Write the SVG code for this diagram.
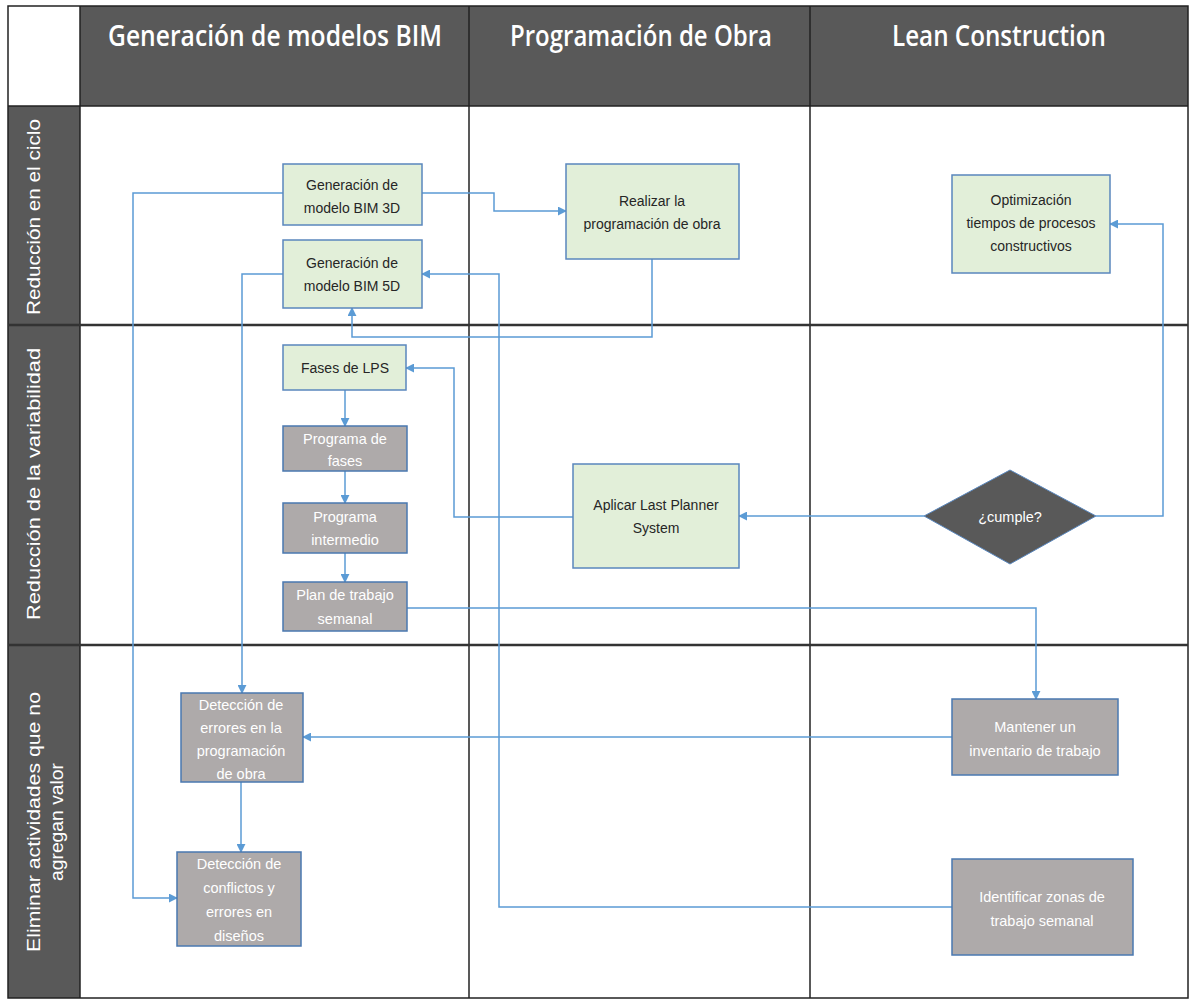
<svg xmlns="http://www.w3.org/2000/svg" width="1190" height="1000" viewBox="0 0 1190 1000">
<style>
.hdr{fill:#595959}
.htxt{font-family:"Open Sans","Liberation Sans",sans-serif;font-weight:600;font-size:29px;fill:#ffffff;text-anchor:middle}
.ltxt{font-family:"Liberation Sans",Arial,sans-serif;font-size:18px;fill:#ffffff;text-anchor:middle}
.grid{stroke:#222;stroke-width:1.5;fill:none}
.gridh{stroke:#333;stroke-width:2.5;fill:none}
.green{fill:#e2efd9;stroke:#5a87bd;stroke-width:1.5}
.gray{fill:#aeaaaa;stroke:#4a78b0;stroke-width:1.5}
.dia{fill:#595959;stroke:#5a87bd;stroke-width:1}
.t{font-family:"Liberation Sans",Arial,sans-serif;font-size:14px;text-anchor:middle;fill:#262626}
.tw{font-family:"Liberation Sans",Arial,sans-serif;font-size:14.5px;text-anchor:middle;fill:#ffffff}
.c{fill:none;stroke:#5b9bd5;stroke-width:1.5}
</style>
<defs>
<marker id="ah" viewBox="0 0 10 10" refX="9" refY="5" markerWidth="9" markerHeight="9" markerUnits="userSpaceOnUse" orient="auto">
<path d="M0,0 L10,5 L0,10 z" fill="#5b9bd5"/>
</marker>
</defs>
<rect x="0" y="0" width="1190" height="1000" fill="#ffffff"/>
<g id="grid">
<rect class="hdr" x="80" y="6" width="1108" height="100"/>
<rect class="hdr" x="8" y="106" width="72" height="892"/>
<rect x="8" y="6" width="72" height="100" fill="#ffffff"/>
<rect class="grid" x="8" y="6" width="1180" height="992"/>
<line class="grid" x1="80" y1="6" x2="80" y2="998"/>
<line class="grid" x1="469" y1="6" x2="469" y2="998"/>
<line class="grid" x1="810" y1="6" x2="810" y2="998"/>
<line class="grid" x1="8" y1="106" x2="1188" y2="106"/>
<line class="gridh" x1="8" y1="325" x2="1188" y2="325"/>
<line class="gridh" x1="8" y1="645" x2="1188" y2="645"/>
<text class="htxt" x="275" y="46" textLength="334" lengthAdjust="spacingAndGlyphs">Generación de modelos BIM</text>
<text class="htxt" x="641" y="46" textLength="262" lengthAdjust="spacingAndGlyphs">Programación de Obra</text>
<text class="htxt" x="999" y="46" textLength="214" lengthAdjust="spacingAndGlyphs">Lean Construction</text>
<text class="ltxt" transform="translate(40,217) rotate(-90)" textLength="196" lengthAdjust="spacingAndGlyphs">Reducción en el ciclo</text>
<text class="ltxt" transform="translate(40,484) rotate(-90)" textLength="272" lengthAdjust="spacingAndGlyphs">Reducción de la variabilidad</text>
<text class="ltxt" transform="translate(40,822) rotate(-90)" textLength="260" lengthAdjust="spacingAndGlyphs">Eliminar actividades que no</text>
<text class="ltxt" transform="translate(63,822) rotate(-90)" textLength="118" lengthAdjust="spacingAndGlyphs">agregan valor</text>
</g>
<g id="connectors">
<polyline class="c" points="283,193 133,193 133,898 177,898" marker-end="url(#ah)"/>
<polyline class="c" points="422,193 494,193 494,211 566,211" marker-end="url(#ah)"/>
<polyline class="c" points="283,274 242,274 242,693" marker-end="url(#ah)"/>
<polyline class="c" points="952,907 499,907 499,274 422,274" marker-end="url(#ah)"/>
<polyline class="c" points="652,259 652,337 352,337 352,308" marker-end="url(#ah)"/>
<polyline class="c" points="345,390 345,426" marker-end="url(#ah)"/>
<polyline class="c" points="345,471 345,503" marker-end="url(#ah)"/>
<polyline class="c" points="345,553 345,582" marker-end="url(#ah)"/>
<polyline class="c" points="407,608 1036,608 1036,699" marker-end="url(#ah)"/>
<polyline class="c" points="573,517 454,517 454,368 406,368" marker-end="url(#ah)"/>
<polyline class="c" points="924,516 739,516" marker-end="url(#ah)"/>
<polyline class="c" points="1096,516 1163,516 1163,224 1110,224" marker-end="url(#ah)"/>
<polyline class="c" points="952,737 303,737" marker-end="url(#ah)"/>
<polyline class="c" points="241,782 241,852" marker-end="url(#ah)"/>
</g>
<g id="gen3d">
<rect class="green" x="283" y="164" width="139" height="61"/>
<text class="t" x="352" y="190">Generación de</text>
<text class="t" x="352" y="213">modelo BIM 3D</text>
</g>
<g id="gen5d">
<rect class="green" x="283" y="240" width="139" height="68"/>
<text class="t" x="352" y="268">Generación de</text>
<text class="t" x="352" y="291">modelo BIM 5D</text>
</g>
<g id="realizar">
<rect class="green" x="566" y="164" width="173" height="95"/>
<text class="t" x="652" y="206">Realizar la</text>
<text class="t" x="652" y="229">programación de obra</text>
</g>
<g id="optimizacion">
<rect class="green" x="952" y="175" width="158" height="98"/>
<text class="t" x="1031" y="205">Optimización</text>
<text class="t" x="1031" y="228">tiempos de procesos</text>
<text class="t" x="1031" y="251">constructivos</text>
</g>
<g id="fases">
<rect class="green" x="283" y="345" width="123" height="45"/>
<text class="t" x="345" y="373">Fases de LPS</text>
</g>
<g id="progfases">
<rect class="gray" x="283" y="426" width="124" height="45"/>
<text class="tw" x="345" y="444">Programa de</text>
<text class="tw" x="345" y="466">fases</text>
</g>
<g id="progint">
<rect class="gray" x="283" y="503" width="124" height="50"/>
<text class="tw" x="345" y="522">Programa</text>
<text class="tw" x="345" y="545">intermedio</text>
</g>
<g id="plan">
<rect class="gray" x="283" y="582" width="124" height="49"/>
<text class="tw" x="345" y="600">Plan de trabajo</text>
<text class="tw" x="345" y="624">semanal</text>
</g>
<g id="aplicar">
<rect class="green" x="573" y="464" width="166" height="104"/>
<text class="t" x="656" y="510">Aplicar Last Planner</text>
<text class="t" x="656" y="533">System</text>
</g>
<g id="cumple">
<polygon class="dia" points="1010,470 1096,516 1010,564 924,516"/>
<text class="tw" x="1010" y="522">¿cumple?</text>
</g>
<g id="deterr">
<rect class="gray" x="181" y="693" width="122" height="89"/>
<text class="tw" x="241" y="710">Detección de</text>
<text class="tw" x="241" y="733">errores en la</text>
<text class="tw" x="241" y="756">programación</text>
<text class="tw" x="241" y="779">de obra</text>
</g>
<g id="detconf">
<rect class="gray" x="177" y="852" width="124" height="94"/>
<text class="tw" x="239" y="869">Detección de</text>
<text class="tw" x="239" y="893">conflictos y</text>
<text class="tw" x="239" y="917">errores en</text>
<text class="tw" x="239" y="941">diseños</text>
</g>
<g id="mantener">
<rect class="gray" x="952" y="699" width="166" height="76"/>
<text class="tw" x="1035" y="732">Mantener un</text>
<text class="tw" x="1035" y="756">inventario de trabajo</text>
</g>
<g id="identificar">
<rect class="gray" x="952" y="859" width="181" height="96"/>
<text class="tw" x="1042" y="902">Identificar zonas de</text>
<text class="tw" x="1042" y="926">trabajo semanal</text>
</g>
</svg>
